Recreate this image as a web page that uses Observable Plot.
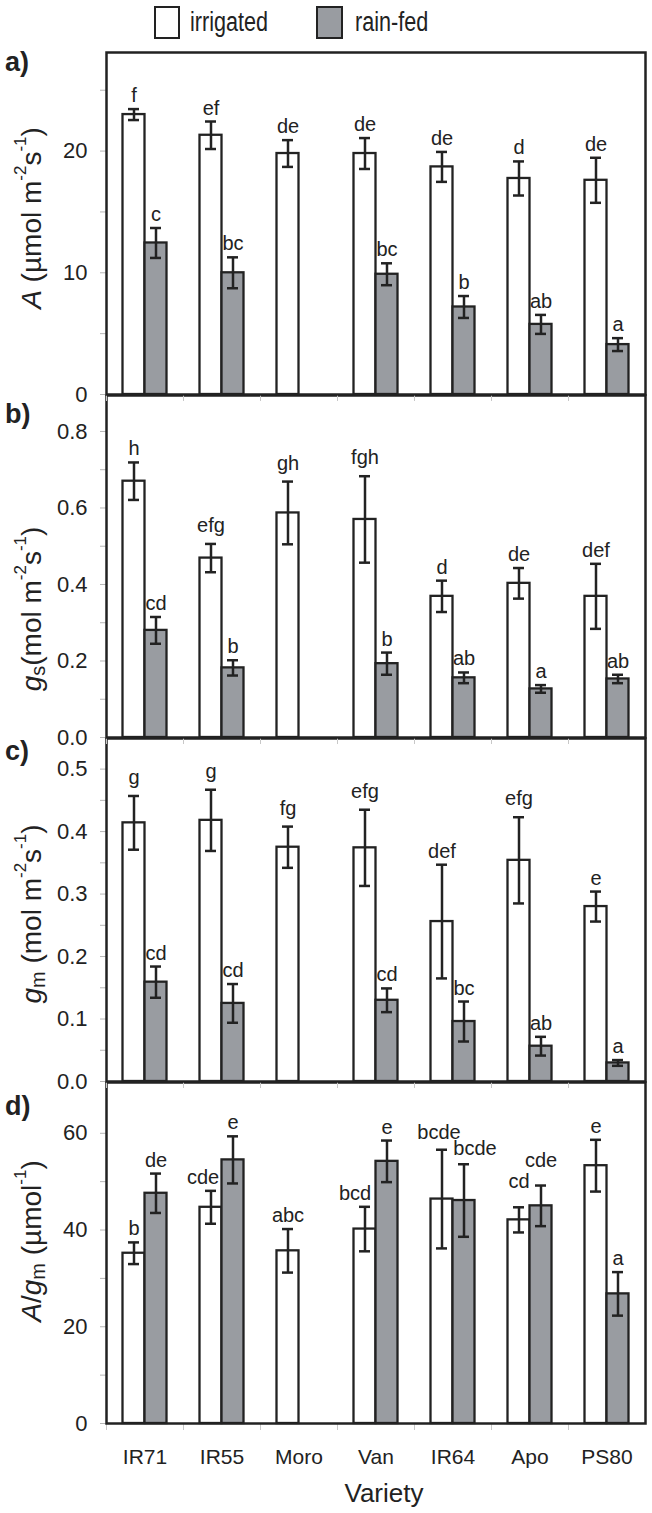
<!DOCTYPE html>
<html><head><meta charset="utf-8">
<script src="https://cdn.jsdelivr.net/npm/d3@7"></script>
<script src="https://cdn.jsdelivr.net/npm/@observablehq/plot@0.6"></script>
<style>
body{margin:0;background:#fff;font-family:"Liberation Sans",Arial,sans-serif;color:#222;}
#fig{position:relative;width:652px;height:1513px;overflow:hidden;}
.panel{position:absolute;left:0;}
.lbox{position:absolute;box-sizing:border-box;border:2.5px solid #222;}
.ltext{position:absolute;font-size:27px;line-height:33px;transform:scaleX(0.8);transform-origin:left center;white-space:nowrap;}
</style></head><body><div id="fig"></div>
<script>
// ---- data ----
const varieties = ["IR71", "IR55", "Moro", "Van", "IR64", "Apo", "PS80"];
const treatments = ["irrigated", "rain-fed"];

// a) A (µmol m-2 s-1)
const A_irr = [23.0, 21.3, 19.8, 19.8, 18.7, 17.75, 17.6];
const A_irr_se = [0.45, 1.13, 1.1, 1.27, 1.23, 1.4, 1.85];
const A_irr_letters = ["f", "ef", "de", "de", "de", "d", "de"];
const A_rf = [12.45, 10.0, null, 9.88, 7.19, 5.76, 4.1];
const A_rf_se = [1.23, 1.27, null, 0.9, 0.9, 0.78, 0.53];
const A_rf_letters = ["c", "bc", null, "bc", "b", "ab", "a"];

// b) gs (mol m-2 s-1)
const gs_irr = [0.670, 0.469, 0.587, 0.570, 0.369, 0.403, 0.369];
const gs_irr_se = [0.049, 0.037, 0.082, 0.113, 0.041, 0.040, 0.085];
const gs_irr_letters = ["h", "efg", "gh", "fgh", "d", "de", "def"];
const gs_rf = [0.280, 0.182, null, 0.193, 0.156, 0.127, 0.153];
const gs_rf_se = [0.035, 0.020, null, 0.029, 0.014, 0.010, 0.011];
const gs_rf_letters = ["cd", "b", null, "b", "ab", "a", "ab"];

// c) gm (mol m-2 s-1)
const gm_irr = [0.414, 0.418, 0.375, 0.374, 0.256, 0.354, 0.280];
const gm_irr_se = [0.043, 0.049, 0.033, 0.061, 0.091, 0.069, 0.024];
const gm_irr_letters = ["g", "g", "fg", "efg", "def", "efg", "e"];
const gm_rf = [0.159, 0.125, null, 0.130, 0.096, 0.0565, 0.0297];
const gm_rf_se = [0.025, 0.031, null, 0.019, 0.032, 0.015, 0.0046];
const gm_rf_letters = ["cd", "cd", null, "cd", "bc", "ab", "a"];

// d) A/gm (µmol-1)
const Agm_irr = [35.2, 44.7, 35.7, 40.2, 46.4, 42.1, 53.3];
const Agm_irr_se = [2.24, 3.4, 4.5, 4.6, 10.2, 2.6, 5.35];
const Agm_irr_letters = ["b", "cde", "abc", "bcd", "bcde", "cd", "e"];
const Agm_rf = [47.6, 54.5, null, 54.2, 46.1, 45.0, 26.8];
const Agm_rf_se = [4.07, 4.87, null, 4.3, 7.5, 4.2, 4.5];
const Agm_rf_letters = ["de", "e", null, "e", "bcde", "cde", "a"];

// ---- build ----
const FONT = '"Liberation Sans", Arial, sans-serif';
const INK = "#222";
const GREY = "#999ca1";
const fig = d3.select("#fig");

// legend
fig.append("div").attr("class", "lbox").style("left", "154px").style("top", "6px").style("width", "26px").style("height", "33px").style("background", "#fff");
fig.append("div").attr("class", "ltext").style("left", "190px").style("top", "6px").text("irrigated");
fig.append("div").attr("class", "lbox").style("left", "316px").style("top", "6px").style("width", "27px").style("height", "33px").style("background", GREY);
fig.append("div").attr("class", "ltext").style("left", "355px").style("top", "6px").text("rain-fed");

function rowsOf(irr, irrSe, irrL, rf, rfSe, rfL) {
  const out = [];
  varieties.forEach((v, i) => {
    if (irr[i] != null) out.push({variety: v, treatment: "irrigated", mean: irr[i], se: irrSe[i], letter: irrL[i]});
    if (rf[i] != null) out.push({variety: v, treatment: "rain-fed", mean: rf[i], se: rfSe[i], letter: rfL[i]});
  });
  return out;
}

const panels = [
  {key: "a", top: 52, h: 342, domain: [0, 28.1], major: [0, 10, 20], minor: [5, 15, 25], fmt: d3.format("d"),
   rows: rowsOf(A_irr, A_irr_se, A_irr_letters, A_rf, A_rf_se, A_rf_letters),
   letterY: 19, titleY: 166,
   title: [["A", "i"], [" (µmol m"], ["-2", "sup"], ["s"], ["-1", "sup"], [")"]]},
  {key: "b", top: 395, h: 342, domain: [0, 0.894], major: [0, 0.2, 0.4, 0.6, 0.8], minor: [0.1, 0.3, 0.5, 0.7], fmt: d3.format(".1f"),
   rows: rowsOf(gs_irr, gs_irr_se, gs_irr_letters, gs_rf, gs_rf_se, gs_rf_letters),
   letterY: 28, titleY: 214,
   title: [["g", "i"], ["s", "sub"], ["(mol m"], ["-2", "sup"], ["s"], ["-1", "sup"], [")"]]},
  {key: "c", top: 738, h: 343, domain: [0, 0.549], major: [0, 0.1, 0.2, 0.3, 0.4, 0.5], minor: [0.05, 0.15, 0.25, 0.35, 0.45], fmt: d3.format(".1f"),
   rows: rowsOf(gm_irr, gm_irr_se, gm_irr_letters, gm_rf, gm_rf_se, gm_rf_letters),
   letterY: 22, titleY: 176,
   title: [["g", "i"], ["m", "sub"], [" (mol m"], ["-2", "sup"], ["s"], ["-1", "sup"], [")"]]},
  {key: "d", top: 1082, h: 341, domain: [0, 70.5], major: [0, 20, 40, 60], minor: [10, 30, 50], fmt: d3.format("d"),
   rows: rowsOf(Agm_irr, Agm_irr_se, Agm_irr_letters, Agm_rf, Agm_rf_se, Agm_rf_letters),
   letterY: 33, titleY: 159, last: true,
   nudge: {"IR55|irrigated": [-8, 0], "Van|irrigated": [-10, 0], "IR64|rain-fed": [11, -2], "IR64|irrigated": [-3, -4],
           "Apo|irrigated": [0, -12], "Apo|rain-fed": [0, -12]},
   title: [["A", "i"], ["/"], ["g", "i"], ["m", "sub"], [" (µmol"], ["-1", "sup"], [")"]]}
];

const OFF = {"irrigated": -11, "rain-fed": 11};
const FILL = {"irrigated": "#fff", "rain-fed": GREY};

panels.forEach(p => {
  const mb = p.last ? 92 : 0;
  const marks = [
    Plot.axisY({ticks: p.minor, tickSize: 6, tickFormat: () => "", stroke: "#b5b5b5", label: null}),
    Plot.axisY({ticks: p.major, tickSize: 6, tickPadding: 13, tickFormat: p.fmt, fontSize: 22, stroke: "#b5b5b5", label: null}),
    Plot.axisX({tickSize: 7, dx: -38.5, tickFormat: () => "", stroke: "#c8c8c8", label: null})
  ];
  treatments.forEach(t => {
    const r = p.rows.filter(d => d.treatment === t);
    const o = OFF[t];
    marks.push(
      Plot.barY(r, {x: "variety", y: "mean", dx: o, insetLeft: 27.5, insetRight: 27.5, fill: FILL[t], stroke: INK, strokeWidth: 2.3}),
      Plot.ruleX(r, {x: "variety", y1: d => d.mean - d.se, y2: d => d.mean + d.se, dx: o, stroke: INK, strokeWidth: 2.5}),
      Plot.tickY(r, {x: "variety", y: d => d.mean + d.se, dx: o, insetLeft: 33, insetRight: 33, stroke: INK, strokeWidth: 2.5}),
      Plot.tickY(r, {x: "variety", y: d => d.mean - d.se, dx: o, insetLeft: 33, insetRight: 33, stroke: INK, strokeWidth: 2.5})
    );
    r.forEach(d => {
      const n = (p.nudge && p.nudge[d.variety + "|" + t]) || [0, 0];
      const lift = /g/.test(d.letter) ? -12 : -7;
      marks.push(Plot.text([d], {x: "variety", y: dd => dd.mean + dd.se, text: "letter", dx: o + n[0], dy: lift + n[1],
        lineAnchor: "bottom", fontSize: 20, fill: INK}));
    });
  });
  marks.push(Plot.frame({stroke: INK, strokeWidth: 2.5}));
  if (p.last) marks.push(Plot.axisX({tickSize: 0, tickPadding: 26, fontSize: 21, label: null}));

  const svg = Plot.plot({
    width: 652, height: p.h + mb,
    marginLeft: 106, marginRight: 7, marginTop: 0, marginBottom: mb,
    style: {background: "transparent", overflow: "visible", fontFamily: FONT, color: INK},
    x: {type: "band", domain: varieties, padding: 0, axis: null},
    y: {domain: p.domain, axis: null},
    marks
  });
  const wrap = fig.append("div").attr("class", "panel").style("top", p.top + "px").style("z-index", 10 - panels.indexOf(p));
  wrap.node().appendChild(svg);
  const s = d3.select(svg);
  // panel letter
  s.append("text").attr("x", 5).attr("y", p.letterY).attr("text-anchor", "start").attr("font-family", FONT).attr("font-weight", "bold")
    .attr("font-size", 27).attr("fill", INK).text(p.key + ")");
  // y title with super/subscripts
  const tt = s.append("text").attr("transform", `translate(31,${p.titleY}) rotate(-90)`)
    .attr("text-anchor", "middle").attr("dominant-baseline", "central")
    .attr("font-family", FONT).attr("font-size", 28).attr("fill", INK);
  let shift = 0;
  p.title.forEach(([txt, kind]) => {
    const sp = tt.append("tspan").text(txt);
    let target = 0;
    if (kind === "i") sp.attr("font-style", "italic");
    if (kind === "sup") { sp.attr("font-size", 17); target = -11; }
    if (kind === "sub") { sp.attr("font-size", 20); target = 7; }
    sp.attr("dy", target - shift);
    shift = target;
  });
  if (p.last) {
    s.append("text").attr("x", 384).attr("y", p.h + 70).attr("text-anchor", "middle").attr("dominant-baseline", "central")
      .attr("font-family", FONT).attr("font-size", 26).attr("fill", INK).text("Variety");
  }
});
</script></body></html>
